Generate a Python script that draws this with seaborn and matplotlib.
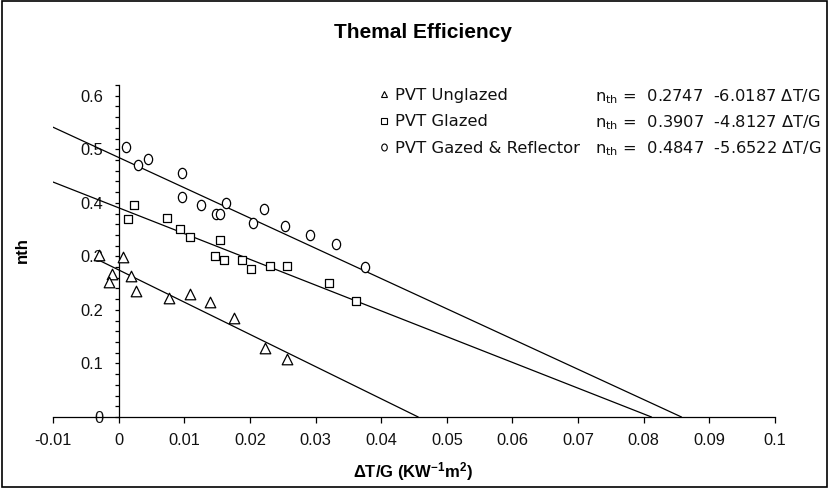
import numpy as np
import pandas as pd
import matplotlib
matplotlib.use("Agg")
import matplotlib.pyplot as plt
import seaborn as sns
from matplotlib.path import Path
from matplotlib.lines import Line2D
from matplotlib.patches import Rectangle
from matplotlib.ticker import FixedLocator, FixedFormatter, MultipleLocator

# ---------------- data ----------------
series_names = ["PVT Unglazed", "PVT Glazed", "PVT Gazed & Reflector"]

unglazed_x = [-0.0030, 0.0007, -0.0010, -0.0014, 0.0019, 0.0027, 0.0077, 0.0108,
              0.0139, 0.0175, 0.0223, 0.0257]
unglazed_y = [0.303, 0.298, 0.267, 0.252, 0.264, 0.236, 0.222, 0.230,
              0.215, 0.185, 0.128, 0.108]

glazed_x = [0.0024, 0.0014, 0.0074, 0.0093, 0.0108, 0.0155, 0.0147, 0.0161,
            0.0188, 0.0201, 0.0231, 0.0256, 0.0320, 0.0362]
glazed_y = [0.396, 0.369, 0.371, 0.351, 0.336, 0.330, 0.300, 0.293,
            0.293, 0.277, 0.282, 0.282, 0.250, 0.217]

reflector_x = [0.0011, 0.0029, 0.0044, 0.0097, 0.0097, 0.0125, 0.0149, 0.0155,
               0.0164, 0.0205, 0.0221, 0.0254, 0.0291, 0.0331, 0.0375]
reflector_y = [0.504, 0.471, 0.482, 0.455, 0.411, 0.396, 0.379, 0.379,
               0.399, 0.362, 0.388, 0.356, 0.340, 0.323, 0.281]

intercepts = [0.2747, 0.3907, 0.4847]
slopes = [-6.0187, -4.8127, -5.6522]
line_starts = [-0.0030, -0.0100, -0.0100]

x_ticks = [-0.01, 0.0, 0.01, 0.02, 0.03, 0.04, 0.05, 0.06, 0.07, 0.08, 0.09, 0.1]
x_tick_labels = ["-0.01", "0", "0.01", "0.02", "0.03", "0.04", "0.05", "0.06",
                 "0.07", "0.08", "0.09", "0.1"]
y_ticks = [0.0, 0.1, 0.2, 0.3, 0.4, 0.5, 0.6]
y_tick_labels = ["0", "0.1", "0.2", "0.3", "0.4", "0.5", "0.6"]

equations = [r"$\mathregular{n_{th}}$ =  0.2747  -6.0187 ΔT/G",
             r"$\mathregular{n_{th}}$ =  0.3907  -4.8127 ΔT/G",
             r"$\mathregular{n_{th}}$ =  0.4847  -5.6522 ΔT/G"]

# ---------------- style ----------------
sns.set_theme(style="white")
plt.rcParams["font.family"] = ["Liberation Sans", "DejaVu Sans"]
plt.rcParams["mathtext.fontset"] = "custom"
plt.rcParams["mathtext.rm"] = "DejaVu Sans"
plt.rcParams["text.color"] = "#111111"

W, H = 829, 488
fig = plt.figure(figsize=(W / 100, H / 100), dpi=100)
fig.patch.set_facecolor("white")

def px(x, y):
    return x / W, 1 - y / H

ax = fig.add_axes([53 / W, (H - 417) / H, (775 - 53) / W, (417 - 85) / H])
ax.set_facecolor("white")

# ellipse marker for the "diamond" series
circ = Path.unit_circle()
ell = Path(circ.vertices * np.array([0.8, 1.0]), circ.codes)
markers = ["^", "s", ell]
sizes = [58, 40, 55]

data_x = [unglazed_x, glazed_x, reflector_x]
data_y = [unglazed_y, glazed_y, reflector_y]

for i in range(3):
    df = pd.DataFrame({"x": data_x[i], "y": data_y[i]})
    sns.scatterplot(data=df, x="x", y="y", marker=markers[i], s=sizes[i],
                    color="white", edgecolor="black", linewidth=0.9,
                    ax=ax, legend=False, zorder=3, clip_on=False)

for i in range(3):
    x_end = -intercepts[i] / slopes[i]
    lx = np.array([line_starts[i], x_end])
    ly = intercepts[i] + slopes[i] * lx
    sns.lineplot(x=lx, y=ly, color="black", linewidth=0.9, ax=ax,
                 legend=False, zorder=2, sort=False)

ax.set_xlim(-0.01, 0.1)
ax.set_ylim(0, 0.62)
ax.set_xlabel("")
ax.set_ylabel("")

for s in ["top", "right"]:
    ax.spines[s].set_visible(False)
ax.spines["left"].set_position(("data", 0))
for s in ["left", "bottom"]:
    ax.spines[s].set_color("black")
    ax.spines[s].set_linewidth(0.9)

ax.xaxis.set_major_locator(FixedLocator(x_ticks))
ax.xaxis.set_major_formatter(FixedFormatter(x_tick_labels))
ax.yaxis.set_major_locator(FixedLocator(y_ticks))
ax.yaxis.set_major_formatter(FixedFormatter(y_tick_labels))
ax.yaxis.set_minor_locator(MultipleLocator(0.02))

ax.tick_params(axis="x", which="major", direction="out", length=4.5, width=0.9,
               color="black", labelsize=11.8, labelcolor="#111111", pad=7,
               bottom=True)
ax.tick_params(axis="y", which="both", direction="out", length=3, width=0.9,
               color="black", left=True)
ax.tick_params(axis="y", which="major", labelsize=11.8, labelcolor="#111111", pad=8)
ax.grid(False)

# titles / labels
fig.text(*px(423, 33), "Themal Efficiency", ha="center", va="center",
         fontsize=15, fontweight="bold", color="black")
fig.text(*px(413, 472), r"ΔT/G (KW$\mathregular{^{-1}}$m$\mathregular{^{2}}$)",
         ha="center", va="center", fontsize=12, fontweight="bold", color="black")
fig.text(*px(22, 250), "nth", ha="center", va="center", rotation=90,
         fontsize=12, fontweight="bold", color="black")

# legend
handles = [Line2D([], [], linestyle="none", marker=markers[i], markersize=5 if i != 1 else 4.5,
                  markerfacecolor="white", markeredgecolor="black", markeredgewidth=0.8)
           for i in range(3)]
leg = fig.legend(handles, series_names, loc="upper left",
                 bbox_to_anchor=px(377, 88), bbox_transform=fig.transFigure,
                 frameon=False, handlelength=0.8, handletextpad=0.3,
                 labelspacing=0.7, borderpad=0, borderaxespad=0,
                 prop={"family": "DejaVu Sans", "size": 11.8})
for t in leg.get_texts():
    t.set_color("#111111")

row_y = [96.5, 122.5, 148.5]
for i in range(3):
    fig.text(*px(595, row_y[i]), equations[i], ha="left", va="center",
             fontsize=11.7, family="DejaVu Sans", color="#111111")

# outer border
fig.add_artist(Rectangle((0.002, 0.003), 0.996, 0.994, transform=fig.transFigure,
                         fill=False, edgecolor="black", linewidth=1.2))

fig.savefig("out.png", dpi=100, facecolor="white")
